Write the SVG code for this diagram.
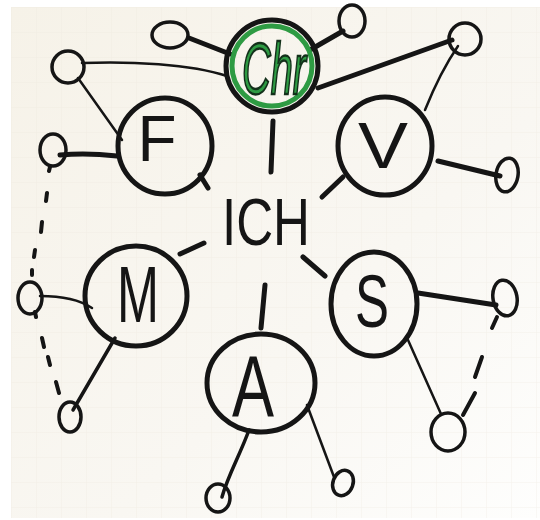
<svg xmlns="http://www.w3.org/2000/svg" width="540" height="520" viewBox="0 0 540 520">
<defs>
<style>
.node{fill:none;stroke:#151515;stroke-width:5}
.small{fill:none;stroke:#151515;stroke-width:3.5}
.thick{fill:none;stroke:#151515;stroke-width:5;stroke-linecap:round}
.mid{fill:none;stroke:#151515;stroke-width:3.5;stroke-linecap:round}
.thin{fill:none;stroke:#151515;stroke-width:2.5;stroke-linecap:round}
.dash{fill:none;stroke:#151515;stroke-width:4;stroke-linecap:round}
.lbl{font-family:"Liberation Sans",Arial,sans-serif;fill:#151515;text-anchor:middle}
.grid{stroke:#ebe6dc;stroke-width:1}
</style>
<linearGradient id="paper" x1="0" y1="0" x2="1" y2="1">
<stop offset="0" stop-color="#f6f2e8"/>
<stop offset="0.6" stop-color="#f9f7f2"/>
<stop offset="1" stop-color="#fefefd"/>
</linearGradient>
<pattern id="gridp" x="11" y="7" width="25" height="25" patternUnits="userSpaceOnUse">
<path d="M0,0 H25 M0,0 V25" class="grid"/>
</pattern>
</defs>
<rect width="540" height="520" fill="#ffffff"/>
<rect x="11" y="7" width="529" height="511" fill="url(#paper)"/>
<rect x="11" y="7" width="529" height="511" fill="url(#gridp)" opacity="0.5"/>

<g id="connectors">
<path class="thick" d="M189,38 L230,54"/>
<path class="thick" d="M310,50 L343,31"/>
<path class="thick" d="M318,88 L452,40"/>
<path class="thin" d="M82,63 C130,61 190,64 227,76"/>
<path class="thick" d="M273,121 L271,172"/>
<path class="thin" d="M78,78 L122,140"/>
<path class="thick" d="M60,155 C80,153 100,154 117,156"/>
<path class="thick" d="M200,175 L208,188"/>
<path class="thin" d="M425,110 C433,90 445,65 458,46"/>
<path class="thick" d="M438,161 L500,176"/>
<path class="thick" d="M343,177 L322,197"/>
<path class="thick" d="M180,254 L204,243"/>
<path class="thin" d="M40,296 C60,296 80,300 92,308"/>
<path class="mid" d="M115,338 L73,410"/>
<path class="thick" d="M303,257 L325,276"/>
<path class="thick" d="M418,293 L496,305"/>
<path class="thin" d="M408,340 L441,414"/>
<path class="thick" d="M265,285 L261,328"/>
<path class="mid" d="M249,430 C240,455 228,475 222,497"/>
<path class="thin" d="M307,405 L334,477"/>
<path class="dash" d="M50,167 L49,171 M47,193 L46,201 M42,222 L41,232 M35,250 L34,257 M32,270 L32,275 M35,312 L36,317 M42,338 L44,347 M48,357 L50,365 M56,382 L59,393"/>
<path class="dash" d="M497,317 L492,328 M482,357 L475,377 M475,393 L463,415"/>
</g>

<g id="node-chr">
<circle class="node" cx="272" cy="66" r="46"/>
<circle cx="272" cy="66" r="40" fill="none" stroke="#2e9b43" stroke-width="5"/>
<text class="lbl" x="274" y="94" font-size="72" font-style="italic" textLength="64" lengthAdjust="spacingAndGlyphs" style="fill:#2e9b43;stroke:#13301a;stroke-width:2.5">Chr</text>
</g>
<g id="node-f">
<ellipse class="node" cx="165" cy="146" rx="47" ry="48"/>
<text class="lbl" x="157" y="161" font-size="64" textLength="39" lengthAdjust="spacingAndGlyphs">F</text>
</g>
<g id="node-v">
<ellipse class="node" cx="385" cy="146" rx="47" ry="49"/>
<text class="lbl" x="383" y="168" font-size="64" textLength="50" lengthAdjust="spacingAndGlyphs">V</text>
</g>
<g id="node-m">
<ellipse class="node" cx="136" cy="296" rx="51" ry="50"/>
<text class="lbl" x="138" y="322" font-size="80" textLength="42" lengthAdjust="spacingAndGlyphs">M</text>
</g>
<g id="node-s">
<ellipse class="node" cx="374" cy="304" rx="43" ry="52"/>
<text class="lbl" x="372" y="327" font-size="74" textLength="34" lengthAdjust="spacingAndGlyphs">S</text>
</g>
<g id="node-a">
<ellipse class="node" cx="261" cy="383" rx="54" ry="49"/>
<text class="lbl" x="253" y="417" font-size="88" textLength="42" lengthAdjust="spacingAndGlyphs">A</text>
</g>
<g id="node-ich">
<text class="lbl" x="266" y="245" font-size="66" textLength="88" lengthAdjust="spacingAndGlyphs">ICH</text>
</g>

<g id="node-s1"><ellipse class="small" cx="170" cy="35" rx="18" ry="13"/></g>
<g id="node-s2"><ellipse class="small" cx="352" cy="21" rx="13" ry="16"/></g>
<g id="node-s3"><circle class="small" cx="465" cy="39" r="16"/></g>
<g id="node-s4"><circle class="small" cx="68" cy="67" r="16"/></g>
<g id="node-s5"><ellipse class="small" cx="53" cy="150" rx="13" ry="16"/></g>
<g id="node-s6"><ellipse class="small" cx="507" cy="175" rx="11" ry="17" transform="rotate(10 507 175)"/></g>
<g id="node-s7"><ellipse class="small" cx="30" cy="298" rx="12" ry="16"/></g>
<g id="node-s8"><ellipse class="small" cx="70" cy="417" rx="11" ry="15"/></g>
<g id="node-s9"><ellipse class="small" cx="505" cy="298" rx="12" ry="18" transform="rotate(-10 505 298)"/></g>
<g id="node-s10"><ellipse class="small" cx="448" cy="432" rx="17" ry="19"/></g>
<g id="node-s11"><ellipse class="small" cx="218" cy="498" rx="12" ry="14"/></g>
<g id="node-s12"><ellipse class="small" cx="343" cy="483" rx="10" ry="13" transform="rotate(20 343 483)"/></g>
</svg>
